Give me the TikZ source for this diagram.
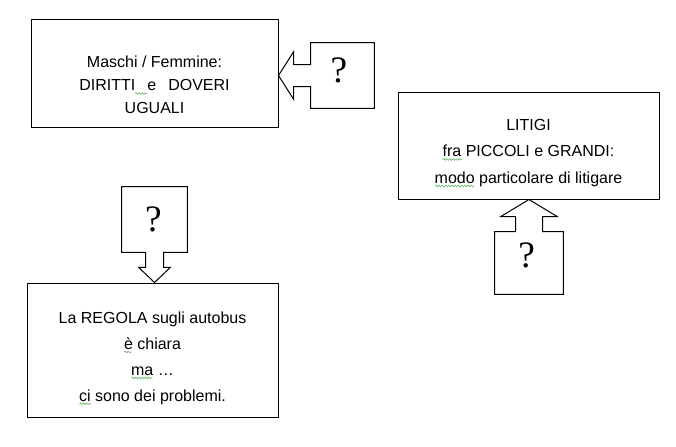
\documentclass[tikz,border=0pt]{standalone}
\usepackage{fontspec}
\setmainfont{Liberation Sans}
\newfontfamily\askfont{Liberation Serif}
\usetikzlibrary{calc,positioning,decorations.pathmorphing}
\definecolor{spellgreen}{RGB}{100,185,100}
\tikzset{
	frame/.style={draw, line width=0.75pt, inner sep=0pt},
	callout/.style={draw, line width=0.75pt, line join=miter},
	lines/.style={align=center, inner sep=0pt, font=\fontsize{12}{#1}\selectfont},
	ask/.style={inner sep=0pt, font=\askfont\fontsize{28}{30}\selectfont},
	spell/.style={draw=spellgreen, line width=0.5pt, decorate, decoration={snake, segment length=2.4pt, amplitude=0.6pt}}
}
\begin{document}
\begin{tikzpicture}[x=0.75pt,y=-0.75pt]
	\useasboundingbox (0,0) rectangle (676,447);
	% the three boxes
	\node [frame, minimum width=185.25pt, minimum height=81pt] (parita) at (154.5,73) {};
	\node [frame, minimum width=195.75pt, minimum height=80.25pt] (litigi) at (528.5,145.5) {};
	\node [frame, minimum width=188.25pt, minimum height=100.5pt] (regola) at (152.5,350) {};
	\node [lines=17.25, below=28.2pt of parita.north] (paritatxt) {Maschi / Femmine:\\ DIRITTI\hspace{9pt}e\hspace{9pt}DOVERI\\ UGUALI};
	\node [lines=20, below=20.4pt of litigi.north] (litigitxt) {LITIGI\\ fra PICCOLI e GRANDI:\\ modo particolare di litigare};
	\node [lines=19.4, below=22pt of regola.north] (regolatxt) {La REGOLA sugli autobus\\ è chiara\\ ma …\\ ci sono dei problemi.};
	% spelling marks
	\draw [spell] (135,93.5) -- (147,93.5);
	\draw [spell] (442.5,159.5) -- (461.5,159.5);
	\draw [spell] (435,186) -- (474,186);
	\draw [spell] (124,352) -- (132,352);
	\draw [spell] (131.5,378) -- (152.5,378);
	\draw [spell] (79.5,403.7) -- (91,403.7);
	% the callouts
	\node [minimum width=47.25pt, minimum height=48.75pt] (q1) at (342.5,75.5) {};
	\node [minimum width=51pt, minimum height=46.5pt] (q2) at (529,263) {};
	\node [minimum width=48.75pt, minimum height=48.75pt] (q3) at (154.5,219.5) {};
	\draw [callout] (q1.north west) -- (q1.north east) -- (q1.south east) -- (q1.south west)
		-- ($(q1.west)+(0,11)$) -- ($(q1.west)+(-17,11)$) -- ($(q1.west)+(-17,24)$)
		-- (parita.east |- q1.west) -- ($(q1.west)+(-17,-24)$) -- ($(q1.west)+(-17,-11)$)
		-- ($(q1.west)+(0,-11)$) -- cycle;
	\draw [callout] (q2.south west) -- (q2.south east) -- (q2.north east)
		-- ($(q2.north)+(13.5,0)$) -- ($(q2.north)+(13.5,-15)$) -- ($(q2.north)+(28.5,-15)$)
		-- (q2.north |- litigi.south) -- ($(q2.north)+(-28.5,-15)$) -- ($(q2.north)+(-13.5,-15)$)
		-- ($(q2.north)+(-13.5,0)$) -- (q2.north west) -- cycle;
	\draw [callout] (q3.north west) -- (q3.north east) -- (q3.south east)
		-- ($(q3.south)+(9,0)$) -- ($(q3.south)+(9,15)$) -- ($(q3.south)+(16,15)$)
		-- (q3.south |- regola.north) -- ($(q3.south)+(-16,15)$) -- ($(q3.south)+(-9,15)$)
		-- ($(q3.south)+(-9,0)$) -- (q3.south west) -- cycle;
	\node [ask] (ask1) at (339,70) {?};
	\node [ask] (ask2) at (526.7,255.8) {?};
	\node [ask] (ask3) at (153.5,219) {?};
\end{tikzpicture}
\end{document}
